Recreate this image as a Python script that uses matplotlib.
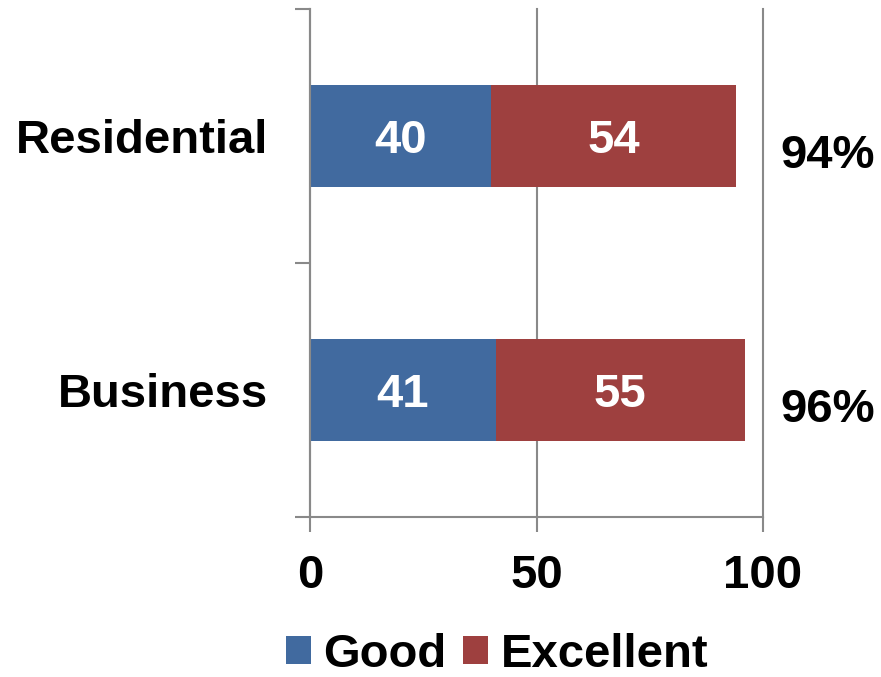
import numpy as np
import matplotlib
matplotlib.use("Agg")
import matplotlib.pyplot as plt
from matplotlib.ticker import FixedLocator

# data
categories = ['Business', 'Residential']
good = [41, 40]
excellent = [55, 54]
xticks = [0, 50, 100]

blue = '#416a9f'
red = '#9e403f'
gray = '#898989'
fs = 34

plt.rcParams['font.family'] = ['Liberation Sans', 'DejaVu Sans']
plt.rcParams['font.weight'] = 'bold'

fig = plt.figure(figsize=(8.81, 6.77), dpi=100)
ax = fig.add_axes([310/881, 1-517/677, 453/881, 508/677])

y = np.arange(len(categories))
h = 0.4
b1 = ax.barh(y, good, height=h, color=blue, label='Good')
b2 = ax.barh(y, excellent, left=good, height=h, color=red, label='Excellent')

labels = ax.bar_label(b1, label_type='center', color='white', fontsize=fs, fontweight='bold')
labels += ax.bar_label(b2, label_type='center', color='white', fontsize=fs, fontweight='bold')
for t in labels:
    t.xyann = (0, -3.5)  # nudge down a little

# totals on the right
for yi, g, e in zip(y, good, excellent):
    ax.text(103.8, yi - 0.08, f'{g + e}%', ha='left', va='center',
            fontsize=fs, fontweight='bold', clip_on=False)

ax.set_xlim(0, 100)
ax.set_ylim(-0.5, 1.5)
ax.set_xticks(xticks)
ax.set_xticklabels([str(t) for t in xticks])
ax.set_yticks(y)
ax.set_yticklabels(categories)
ax.yaxis.set_minor_locator(FixedLocator([-0.5, 0.5, 1.5]))

ax.tick_params(axis='x', which='major', length=11, width=1.5, color=gray,
               labelsize=fs, pad=16)
ax.tick_params(axis='y', which='major', length=0, labelsize=fs, pad=30)
ax.tick_params(axis='y', which='minor', length=11, width=1.5, color=gray)

ax.xaxis.grid(True, color=gray, linewidth=1.5)
for gl in ax.get_xgridlines():
    gl.set_clip_on(False)
ax.set_axisbelow(True)

for s in ['top', 'right']:
    ax.spines[s].set_visible(False)
for s in ['left', 'bottom']:
    ax.spines[s].set_color(gray)
    ax.spines[s].set_linewidth(1.5)

fig.legend(handles=[b1, b2], loc='center', bbox_to_anchor=(497/881, 1-655/677),
           ncol=2, frameon=False, fontsize=fs, handlelength=0.53,
           handleheight=0.53, handletextpad=0.26, columnspacing=0.36)

fig.savefig('out.png', dpi=100)
